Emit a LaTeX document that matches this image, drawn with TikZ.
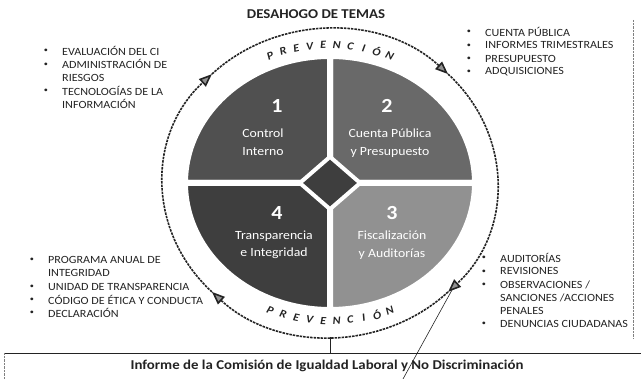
\documentclass[tikz,border=0pt]{standalone}
\usepackage{fontspec}
\setmainfont[FakeStretch=1.1]{Carlito}
\usetikzlibrary{arrows.meta,shapes.geometric}
\definecolor{grisuno}{RGB}{80,80,80}
\definecolor{grisdos}{RGB}{105,105,105}
\definecolor{gristres}{RGB}{145,145,145}
\definecolor{griscuatro}{RGB}{62,62,62}
\definecolor{tinta}{RGB}{35,35,35}
\tikzstyle{ciclo}=[
    x=1pt, y=1pt,
    sector/.style={draw=white, line width=6pt, line join=round},
    rombo/.style={diamond, fill=griscuatro, draw=white, line width=4pt, minimum width=62pt, minimum height=54pt, inner sep=0pt},
    numero/.style={font={\fontsize{20}{20}\selectfont\bfseries}, text=white},
    etiqueta/.style={font={\fontsize{12.5}{17.5}\selectfont}, text=white, align=center},
    vineta/.style={font={\fontsize{7.5}{7.5}\selectfont}, text=tinta, inner sep=0pt},
    renglon/.style={font={\fontsize{11}{11}\selectfont}, text=tinta, anchor=west, inner sep=0pt},
    letra/.style={font={\fontsize{11}{11}\selectfont\bfseries\itshape}, text=tinta, inner sep=0pt},
    flecha/.style={tinta, line width=1.6pt, dash pattern=on 2.5pt off 1pt, -{Triangle[length=13pt,width=10pt,fill=gristres]}},
    titulo/.style={font={\fontsize{13.5}{13.5}\selectfont\bfseries}, text=tinta},
]
\newcommand{\cuadrante}[3]{
    \path[sector,fill=#1] (330,196) -- +(#2:145 and 127)
        arc[start angle=#2, end angle=#3, x radius=145, y radius=127]
        -- cycle;
}
\newcommand{\lista}[3][]{
    \begin{scope}[#1]
    \path
        \foreach \t/\b [count=\i] in {#3}
            {
                  ++(0,-13.2) node[vineta] {\b} +(16,0) node[renglon] (#2-\i) {\t}
            }
    ;
    \end{scope}
}

\begin{document}
\begin{tikzpicture}[ciclo]
\useasboundingbox (0,0) rectangle (641,379);

    \node[titulo] (titulo) at (316,365) {DESAHOGO DE TEMAS};

    % cuadrantes
    \cuadrante{grisdos}{0}{90}
    \cuadrante{grisuno}{90}{180}
    \cuadrante{griscuatro}{180}{270}
    \cuadrante{gristres}{270}{360}
    \node[rombo] (centro) at (330,196) {};

    \node[numero] (n1) at (277,273) {1};
    \node[etiqueta] (e1) at (263,237) {Control\\Interno};
    \node[numero] (n2) at (387,273) {2};
    \node[etiqueta] (e2) at (390,236) {Cuenta Pública\\y Presupuesto};
    \node[numero] (n3) at (392,166) {3};
    \node[etiqueta] (e3) at (392,134) {Fiscalización\\y Auditorías};
    \node[numero] (n4) at (277,166) {4};
    \node[etiqueta] (e4) at (274,134) {Transparencia\\e Integridad};

    % ciclo
    \foreach \a in {225,135,45,-45}
        \draw[flecha] ({330+167*cos(\a)},{196+154*sin(\a)})
            arc[start angle=\a, end angle=\a-90, x radius=167, y radius=154];

    \foreach \l [count=\i] in {P,R,E,V,E,N,C,I,Ó,N}{
        \pgfmathsetmacro{\a}{112.5-(\i-1)*5}
        \pgfmathsetmacro{\b}{247.5+(\i-1)*5}
        \node[letra, rotate=\a-90] (arriba-\i) at ({330+156*cos(\a)},{196+138*sin(\a)}) {\l};
        \node[letra, rotate=\b-270] (abajo-\i) at ({330+156*cos(\b)},{196+138*sin(\b)}) {\l};
    }

    % listas
    \lista[shift={(46,341)}]{li}{EVALUACIÓN DEL CI/\textbullet, ADMINISTRACIÓN DE/\textbullet, RIESGOS/, TECNOLOGÍAS DE LA/\textbullet, INFORMACIÓN/}
    \lista[shift={(469,360)}]{ld}{CUENTA PÚBLICA/\textbullet, INFORMES TRIMESTRALES/\textbullet, PRESUPUESTO/\textbullet, ADQUISICIONES/\textbullet}
    \lista[shift={(32,132)}]{bi}{PROGRAMA ANUAL DE/\textbullet, INTEGRIDAD/, UNIDAD DE TRANSPARENCIA/\textbullet, CÓDIGO DE ÉTICA Y CONDUCTA/\textbullet, DECLARACIÓN/\textbullet}
    \lista[shift={(484,134)}]{bd}{AUDITORÍAS/\textbullet, REVISIONES/\textbullet, {OBSERVACIONES /}/\textbullet, {SANCIONES /ACCIONES}/, PENALES/, DENUNCIAS CIUDADANAS/\textbullet}

    % informe
    \coordinate (pie) at (330,42);
    \coordinate (tope) at (330,26);
    \coordinate (baseizq) at (4,26);
    \coordinate (baseder) at (641,26);
    \coordinate (esquina) at (4,0);
    \coordinate (margensup) at (633,359);
    \coordinate (margeninf) at (633,41);
    \coordinate (puntero) at (452,89);
    \coordinate (remate) at (403,0);
    \draw[tinta, thin] (pie) -- (tope);
    \draw[tinta, thin] (baseizq) -- (baseder);
    \draw[gray, thin, densely dotted] (baseizq) -- (esquina);
    \draw[gray, thin, densely dotted] (margensup) -- (margeninf);
    \node[titulo] (informe) at (327,13)
        {Informe de la Comisión de Igualdad Laboral y No Discriminación};
    \draw[tinta, semithick] (puntero) -- (remate);

\end{tikzpicture}
\end{document}
